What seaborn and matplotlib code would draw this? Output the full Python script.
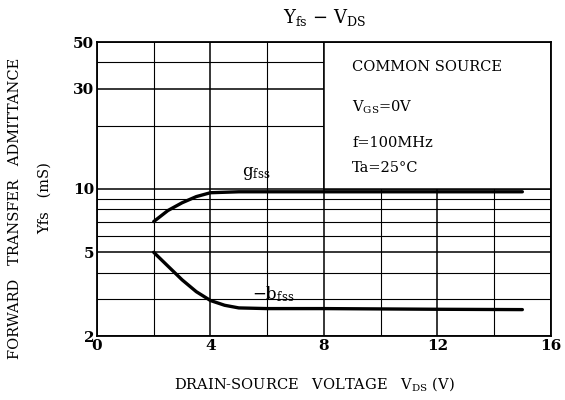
import matplotlib
matplotlib.use("Agg")
import matplotlib.pyplot as plt
import matplotlib.ticker as mticker
from matplotlib.patches import Rectangle
import seaborn as sns
import pandas as pd

# =====================================
# DATA
# =====================================

vds_g = [2, 2.5, 3, 3.5, 4, 5, 6, 8, 10, 12, 15]
gfss = [7.0, 7.9, 8.6, 9.2, 9.6, 9.7, 9.7, 9.7, 9.7, 9.7, 9.7]

vds_b = [2, 2.5, 3, 3.5, 4, 4.5, 5, 6, 8, 10, 12, 15]
bfss = [5.0, 4.3, 3.7, 3.25, 2.95, 2.8, 2.72, 2.7, 2.7, 2.69, 2.68, 2.67]

x_ticks = [0, 4, 8, 12, 16]
x_minor = [2, 6, 10, 14]
y_ticks = [2, 5, 10, 30, 50]
y_minor = [3, 4, 6, 7, 8, 9, 20, 40]

conditions = ["COMMON SOURCE", "V$_{\\mathregular{GS}}$=0V", "f=100MHz", "Ta=25°C"]

# =====================================
# STYLE
# =====================================

sns.set_style("white")
plt.rcParams["font.family"] = ["DejaVu Serif"]
plt.rcParams["mathtext.default"] = "regular"
plt.rcParams["text.color"] = "black"
plt.rcParams["xtick.color"] = "black"
plt.rcParams["ytick.color"] = "black"

df_g = pd.DataFrame({"vds": vds_g, "y": gfss})
df_b = pd.DataFrame({"vds": vds_b, "y": bfss})

fig = plt.figure(figsize=(5.65, 4.0), dpi=100)
ax = fig.add_axes([0.1717, 0.16, 0.803, 0.735])

sns.lineplot(data=df_g, x="vds", y="y", ax=ax, color="black", linewidth=2.4, zorder=3)
sns.lineplot(data=df_b, x="vds", y="y", ax=ax, color="black", linewidth=2.4, zorder=3)

ax.set_yscale("log")
ax.set_xlim(0, 16)
ax.set_ylim(2, 50)

ax.xaxis.set_major_locator(mticker.FixedLocator(x_ticks))
ax.xaxis.set_minor_locator(mticker.FixedLocator(x_minor))
ax.yaxis.set_major_locator(mticker.FixedLocator(y_ticks))
ax.yaxis.set_minor_locator(mticker.FixedLocator(y_minor))
ax.yaxis.set_major_formatter(mticker.FixedFormatter([str(v) for v in y_ticks]))
ax.yaxis.set_minor_formatter(mticker.NullFormatter())

ax.grid(True, which="major", color="black", linewidth=1.1)
ax.grid(True, which="minor", color="black", linewidth=0.8)
ax.set_axisbelow(True)

ax.tick_params(which="both", length=0, labelsize=11, pad=2, labelcolor="black")
for lbl in ax.get_xticklabels() + ax.get_yticklabels():
    lbl.set_fontweight("bold")

for s in ax.spines.values():
    s.set_color("black")
    s.set_linewidth(1.3)

# blank box for the test conditions
ax.add_patch(Rectangle((8, 10), 8, 40, facecolor="white", edgecolor="black",
                       linewidth=1.1, zorder=1))
cond_y = [38, 24.5, 16.5, 12.6]
for txt, yy in zip(conditions, cond_y):
    ax.text(9.0, yy, txt, fontsize=10.5, va="center", ha="left", zorder=4)

ax.text(5.6, 11.9, "g$_{\\mathregular{fss}}$", fontsize=12, ha="center", va="center")
ax.text(6.2, 3.15, "−b$_{\\mathregular{fss}}$", fontsize=12, ha="center", va="center")

ax.set_xlabel("")
ax.set_ylabel("")

fig.text(0.575, 0.955, "Y$_{\\mathregular{fs}}$ − V$_{\\mathregular{DS}}$",
         ha="center", va="center", fontsize=13)
fig.text(0.557, 0.04, "DRAIN-SOURCE   VOLTAGE   V$_{\\mathregular{DS}}$ (V)",
         ha="center", va="center", fontsize=10.5)
fig.text(0.027, 0.48, "FORWARD   TRANSFER   ADMITTANCE", rotation=90,
         ha="center", va="center", fontsize=10.5)
fig.text(0.08, 0.505, "Yfs   (mS)", rotation=90,
         ha="center", va="center", fontsize=10.5)

fig.savefig("out.png", dpi=100)
